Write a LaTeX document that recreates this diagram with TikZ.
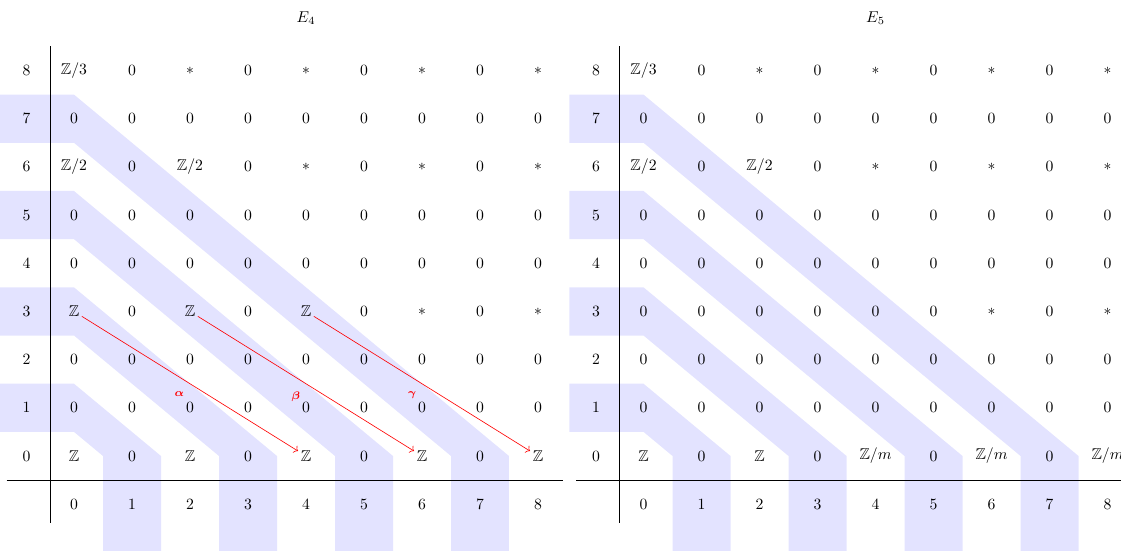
\documentclass[tikz,border=0pt]{standalone}
\usepackage{amsmath,amssymb}
\usepackage{xcolor}
\usepackage{tikz}
\usetikzlibrary{arrows.meta,positioning}

\begin{document}
\begin{tikzpicture}[
    x=1.3cm, y=1.08cm,
    entry/.style={inner sep=1.5pt},
    band/.style={fill=blue!11},
    diff/.style={->,red},
    difflabel/.style={font=\scriptsize,text=red,below left=4pt and 2.5pt,inner sep=1pt}
]
\path[use as bounding box,clip] (-1.276,-1.951) rectangle (18.052,9.464);
% E_4 page
\begin{scope}
\foreach \r in {1,3,5,7}
  \fill[band] (-1.28,\r+0.5) -- (0,\r+0.5) -- (\r+0.5,0) -- (\r+0.5,-2.1)
    -- (\r-0.5,-2.1) -- (\r-0.5,0) -- (0,\r-0.5) -- (-1.28,\r-0.5) -- cycle;
\draw (-0.41,8.5) -- (-0.41,-1.4);
\draw (-1.16,-0.5) -- (8.43,-0.5);
\node (a-title) at (4,9.09) {$E_4$};
\foreach \r/\row in {
    8/{$\mathbb{Z}/3$,$0$,$*$,$0$,$*$,$0$,$*$,$0$,$*$},
    7/{$0$,$0$,$0$,$0$,$0$,$0$,$0$,$0$,$0$},
    6/{$\mathbb{Z}/2$,$0$,$\mathbb{Z}/2$,$0$,$*$,$0$,$*$,$0$,$*$},
    5/{$0$,$0$,$0$,$0$,$0$,$0$,$0$,$0$,$0$},
    4/{$0$,$0$,$0$,$0$,$0$,$0$,$0$,$0$,$0$},
    3/{$\mathbb{Z}$,$0$,$\mathbb{Z}$,$0$,$\mathbb{Z}$,$0$,$*$,$0$,$*$},
    2/{$0$,$0$,$0$,$0$,$0$,$0$,$0$,$0$,$0$},
    1/{$0$,$0$,$0$,$0$,$0$,$0$,$0$,$0$,$0$},
    0/{$\mathbb{Z}$,$0$,$\mathbb{Z}$,$0$,$\mathbb{Z}$,$0$,$\mathbb{Z}$,$0$,$\mathbb{Z}$}}{
  \node (a-y\r) at (-0.82,\r) {$\r$};
  \foreach \e [count=\c from 0] in \row
    \node[entry] (a-\c-\r) at (\c,\r) {\e};
}
\foreach \c in {0,...,8}
  \node (a-x\c) at (\c,-1) {$\c$};
\end{scope}
% E_5 page
\begin{scope}[shift={(9.82,0)}]
\foreach \r in {1,3,5,7}
  \fill[band] (-1.28,\r+0.5) -- (0,\r+0.5) -- (\r+0.5,0) -- (\r+0.5,-2.1)
    -- (\r-0.5,-2.1) -- (\r-0.5,0) -- (0,\r-0.5) -- (-1.28,\r-0.5) -- cycle;
\draw (-0.41,8.5) -- (-0.41,-1.4);
\draw (-1.16,-0.5) -- (8.6,-0.5);
\node (b-title) at (4,9.09) {$E_5$};
\foreach \r/\row in {
    8/{$\mathbb{Z}/3$,$0$,$*$,$0$,$*$,$0$,$*$,$0$,$*$},
    7/{$0$,$0$,$0$,$0$,$0$,$0$,$0$,$0$,$0$},
    6/{$\mathbb{Z}/2$,$0$,$\mathbb{Z}/2$,$0$,$*$,$0$,$*$,$0$,$*$},
    5/{$0$,$0$,$0$,$0$,$0$,$0$,$0$,$0$,$0$},
    4/{$0$,$0$,$0$,$0$,$0$,$0$,$0$,$0$,$0$},
    3/{$0$,$0$,$0$,$0$,$0$,$0$,$*$,$0$,$*$},
    2/{$0$,$0$,$0$,$0$,$0$,$0$,$0$,$0$,$0$},
    1/{$0$,$0$,$0$,$0$,$0$,$0$,$0$,$0$,$0$},
    0/{$\mathbb{Z}$,$0$,$\mathbb{Z}$,$0$,$\mathbb{Z}/m$,$0$,$\mathbb{Z}/m$,$0$,$\mathbb{Z}/m$}}{
  \node (b-y\r) at (-0.82,\r) {$\r$};
  \foreach \e [count=\c from 0] in \row
    \node[entry] (b-\c-\r) at (\c,\r) {\e};
}
\foreach \c in {0,...,8}
  \node (b-x\c) at (\c,-1) {$\c$};
\end{scope}
% differentials d_4
\draw[diff] (a-0-3) -- node[difflabel] {$\boldsymbol{\alpha}$} (a-4-0);
\draw[diff] (a-2-3) -- node[difflabel] {$\boldsymbol{\beta}$} (a-6-0);
\draw[diff] (a-4-3) -- node[difflabel] {$\boldsymbol{\gamma}$} (a-8-0);
\end{tikzpicture}
\end{document}
